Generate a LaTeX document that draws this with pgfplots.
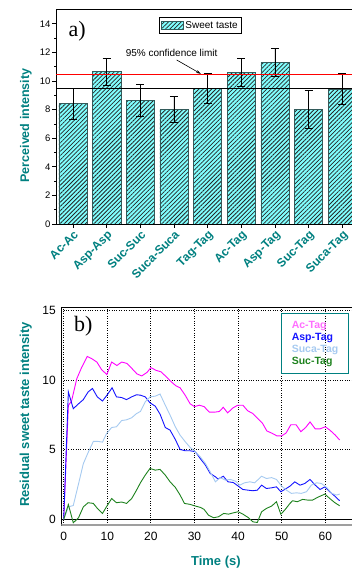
\documentclass[border=0pt]{standalone}
\usepackage{pgfplots}
\pgfplotsset{compat=1.18}
\usepackage{pgfplotstable}
\usepackage{fontspec}
\setmainfont{Liberation Sans}
\newfontfamily\tnr{Liberation Serif}
\usetikzlibrary{patterns.meta,arrows.meta}
\definecolor{tealc}{RGB}{0,128,128}
\definecolor{cyanl}{RGB}{128,255,255}
\definecolor{bardraw}{RGB}{50,90,90}
\definecolor{redc}{RGB}{255,0,0}
\definecolor{magc}{RGB}{255,0,255}
\definecolor{maglight}{RGB}{255,110,255}
\definecolor{bluec}{RGB}{20,20,255}
\definecolor{lbluec}{RGB}{166,202,240}
\definecolor{greenc}{RGB}{30,130,30}
\pgfplotsset{hatchlegend/.style={legend image code/.code={\draw[##1] (0pt,-4pt) rectangle (22pt,4pt);}}}

\pgfplotstableread{
x y e
0 8.41 1.08
1 10.65 0.93
2 8.67 1.13
3 8.02 0.91
4 9.49 1.04
5 10.61 0.95
6 11.31 0.96
7 8.04 1.33
8 9.44 1.06
}\sweet

\pgfplotstableread{
t v
0 0
1.07 8.18
1.8 8.5
3.0 10.1
4.1 10.9
5.4 11.7
6.4 11.55
7.6 11.3
8.7 10.75
9.9 10.4
11.0 11.3
12.2 11.05
13.3 11.3
14.5 11.2
15.6 10.85
16.8 10.45
17.9 10.3
19.1 10.55
20.0 10.9
21.2 10.7
22.3 10.6
23.5 10.25
24.6 9.9
25.7 9.6
26.7 9.45
27.9 8.9
29.0 8.3
30.0 8.1
31.1 8.2
32.2 8.1
33.4 7.7
34.6 7.7
35.7 7.75
36.6 8.05
37.6 7.65
38.8 8.0
39.9 8.2
41.1 8.2
42.2 7.8
43.4 7.6
44.5 7.25
45.6 6.9
46.6 6.35
47.7 6.2
48.9 6.0
50.0 6.0
51.0 6.2
52.1 6.8
53.3 6.8
54.4 6.3
55.5 6.6
56.5 7.0
57.7 6.5
58.8 6.5
60.0 6.65
61.1 6.4
62.3 6.05
63.3 5.7
}\actag

\pgfplotstableread{
t v
0 0
1.07 9.15
2.2 7.95
3.4 8.3
4.5 8.6
5.6 9.15
6.6 9.4
7.7 8.8
8.9 8.5
10.0 8.95
11.1 9.45
12.1 8.8
13.3 8.75
14.4 8.6
15.6 8.8
16.7 8.95
17.6 8.92
18.7 8.8
19.8 8.37
21.0 8.13
22.1 7.56
23.3 6.6
24.4 6.41
25.6 5.74
26.7 5.02
27.9 4.93
29.0 4.93
30.2 4.86
31.3 4.38
32.5 3.9
33.6 3.3
34.8 3.06
35.4 2.9
36.6 3.1
37.7 2.7
38.9 2.65
40.0 2.4
41.1 2.15
42.3 2.1
43.4 2.06
44.4 2.1
45.4 2.46
46.5 2.22
47.7 2.27
48.8 2.34
49.8 1.99
50.7 2.15
51.9 2.39
53.0 2.7
54.2 2.46
55.3 2.58
56.5 2.87
57.7 2.46
58.8 2.15
59.9 2.34
61.0 1.99
62.2 1.67
63.3 1.34
}\asptag

\pgfplotstableread{
t v
0 0
1.07 0.9
2.2 1.0
3.4 2.55
4.5 4.0
5.6 4.8
6.8 5.6
7.9 5.6
8.9 5.55
9.8 6.15
11.0 6.6
12.1 6.65
13.3 7.1
14.4 7.15
15.6 7.3
16.7 7.6
17.6 7.75
18.7 8.44
19.8 8.8
21.0 8.85
22.1 9.0
23.3 8.2
24.4 7.49
25.6 6.65
26.7 6.05
27.9 5.57
29.0 5.17
30.2 4.86
31.3 4.5
32.5 4.02
33.6 3.42
34.8 2.7
35.9 3.0
37.1 2.82
38.2 2.87
39.4 2.75
40.4 2.46
41.5 2.63
42.7 2.7
43.8 2.63
45.4 3.1
46.5 2.94
47.7 3.0
48.8 2.87
50.0 2.39
51.1 2.1
52.2 1.87
53.4 1.91
54.5 1.87
55.7 1.99
56.8 2.46
58.0 2.63
59.1 2.58
60.3 2.3
61.5 1.87
62.6 1.75
63.3 1.82
}\sucatag

\pgfplotstableread{
t v
0 0
1.07 1.07
2.2 -0.24
3.4 0.12
4.5 0.9
5.6 1.2
6.8 1.15
7.7 0.8
8.9 0.43
9.8 0.9
11.0 1.5
12.1 1.2
13.3 1.25
14.4 1.15
15.6 1.5
16.7 2.1
17.6 2.63
18.7 3.18
19.8 3.66
21.0 3.54
22.1 3.59
23.3 3.18
24.4 2.7
25.6 2.3
26.7 1.75
27.7 1.15
29.0 1.08
30.2 0.96
31.4 0.86
32.2 0.72
33.2 0.31
34.4 0.12
35.5 0.19
36.7 0.43
37.8 0.38
39.0 0.48
40.0 0.55
41.1 0.38
42.3 0.14
43.4 -0.17
44.4 -0.22
45.4 0.55
46.5 0.79
47.7 0.96
48.8 1.27
49.8 0.38
50.7 0.67
51.9 1.15
52.5 1.34
53.6 1.27
54.8 1.44
55.9 1.39
57.1 1.39
58.2 1.58
59.9 1.82
61.0 1.51
62.2 1.2
63.3 0.98
}\suctag

\begin{document}
\begin{tikzpicture}
\path[use as bounding box] (0,0) rectangle (352pt,568pt);
% ---------------- panel a ----------------
\begin{axis}[
  at={(56.2pt,344pt)}, anchor=south west,
  scale only axis, width=302.9pt, height=214.5pt,
  xmin=-0.5, xmax=8.5, ymin=0, ymax=15,
  axis line style={black, line width=0.6pt},
  xtick={0,...,8},
  xticklabels={Ac-Ac,Asp-Asp,Suc-Suc,Suca-Suca,Tag-Tag,Ac-Tag,Asp-Tag,Suc-Tag,Suca-Tag},
  ytick={0,2,...,14}, minor y tick num=1,
  tick align=outside, tick pos=left,
  major tick length=4pt, minor tick length=2pt,
  tick style={black, line width=0.6pt},
  /pgf/number format/assume math mode=true,
  yticklabel style={font=\fontsize{9.5}{11}\selectfont, inner sep=1.5pt},
  xticklabel style={font=\bfseries\fontsize{12}{14}\selectfont, text=tealc, rotate=45, anchor=north east, inner sep=1pt},
  ylabel={Perceived intensity},
  ylabel style={font=\bfseries\fontsize{12.5}{14}\selectfont, text=tealc, at={(axis description cs:-0.1,0.459)}, anchor=center},
  legend style={at={(axis cs:2.556,14.45)}, anchor=north west, draw=black, line width=0.6pt,
     font=\fontsize{10}{12}\selectfont, inner sep=1.5pt},
]
\addplot[ybar, bar width=28.3pt, fill=cyanl, draw=bardraw, line width=0.6pt,
  postaction={pattern={Lines[angle=45,distance=3pt,line width=0.8pt]}, pattern color=black!85},
  forget plot,
  error bars/.cd, y dir=both, y explicit,
  error bar style={black, line width=0.7pt},
  error mark options={rotate=90, mark size=4pt, black, line width=0.7pt}]
  table[x=x, y=y, y error=e] {\sweet};
\addplot[color=redc, draw=redc, line width=0.9pt, forget plot] coordinates {(-0.5,10.45) (8.5,10.45)};
\addplot[color=black, draw=black, line width=0.8pt, forget plot] coordinates {(-0.5,9.45) (8.5,9.45)};
\addlegendimage{fill=cyanl, draw=bardraw, line width=0.6pt,
  postaction={pattern={Lines[angle=45,distance=3pt,line width=0.8pt]}, pattern color=black!85},
  hatchlegend}
\addlegendentry{Sweet taste}
\node[font=\fontsize{10}{12}\selectfont] at (axis cs:2.93,11.96) {95\% confidence limit};
\draw[-{Stealth[length=5pt,width=3pt]}, line width=0.6pt] (axis cs:3.08,11.47) -- (axis cs:3.80,10.5);
\node[font=\tnr\fontsize{22}{22}\selectfont] at (axis cs:0.12,13.45) {a)};
\end{axis}
% ---------------- panel b ----------------
\begin{axis}[
  at={(61.3pt,43pt)}, anchor=south west,
  scale only axis, width=294.5pt, height=217.3pt,
  xmin=-0.55, xmax=67, ymin=-0.4, ymax=15.2,
  axis line style={black, line width=0.8pt},
  xtick={0,10,...,60}, ytick={0,5,10,15},
  major tick length=0pt,
  grid=major, grid style={black, dotted, line width=0.8pt},
  /pgf/number format/assume math mode=true,
  ticklabel style={font=\fontsize{12}{14}\selectfont},
  xticklabel style={yshift=-4pt},
  yticklabel style={xshift=-2pt},
  xlabel={Time (s)},
  xlabel style={font=\bfseries\fontsize{13}{15}\selectfont, text=tealc, at={(axis description cs:0.525,-0.170)}, anchor=center},
  ylabel={Residual sweet taste intensity},
  ylabel style={font=\bfseries\fontsize{13}{15}\selectfont, text=tealc, at={(axis description cs:-0.121,0.509)}, anchor=center},
  legend style={at={(axis cs:65.4,14.8)}, anchor=north east, draw=tealc, line width=1.1pt, fill=none,
     font=\bfseries\fontsize{10.5}{12}\selectfont, inner xsep=8pt, inner ysep=5pt, row sep=-0.5pt},
  legend cell align=left,
  legend image code/.code={},
]
\addplot[black, line width=0.9pt, forget plot] coordinates {(-0.55,0) (67,0)};
\addplot[magc, line width=0.9pt] table[x=t, y=v] {\actag};
\addlegendentry{\textcolor{maglight}{Ac-Tag}}
\addplot[bluec, line width=0.9pt] table[x=t, y=v] {\asptag};
\addlegendentry{\textcolor{bluec}{Asp-Tag}}
\addplot[lbluec, line width=0.9pt] table[x=t, y=v] {\sucatag};
\addlegendentry{\textcolor{lbluec}{Suca-Tag}}
\addplot[greenc, line width=0.9pt] table[x=t, y=v] {\suctag};
\addlegendentry{\textcolor{greenc}{Suc-Tag}}
\draw[gray!75, line width=2.5pt] (rel axis cs:0,0) -- (rel axis cs:1,0);
\node[font=\tnr\fontsize{22}{22}\selectfont] at (axis cs:4.5,13.9) {b)};
\end{axis}
\end{tikzpicture}
\end{document}
